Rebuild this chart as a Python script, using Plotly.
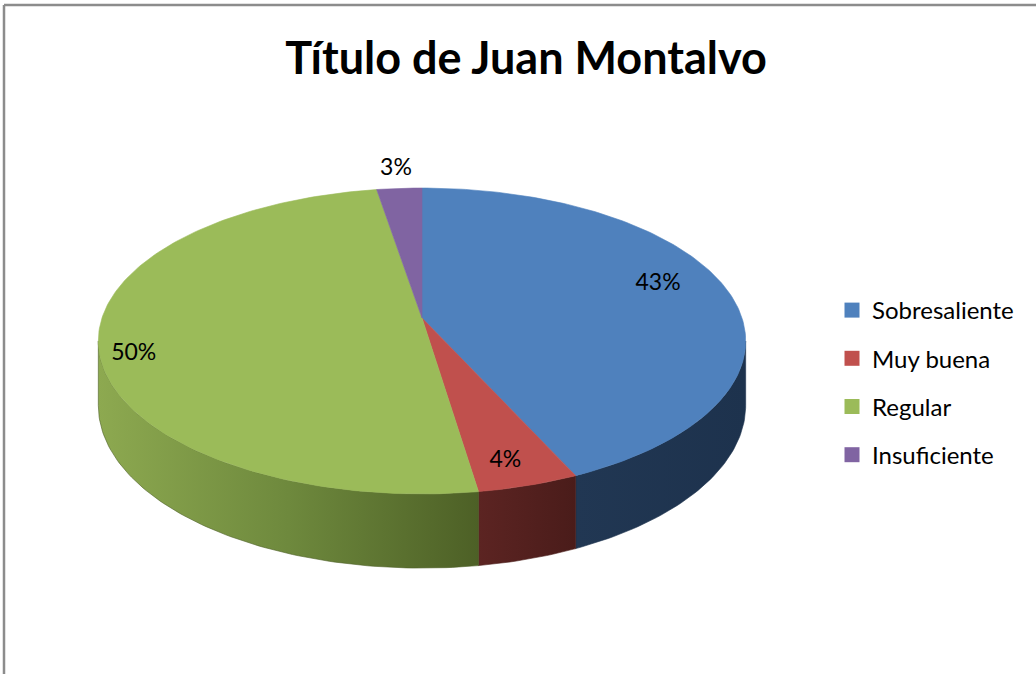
import numpy as np
import plotly.graph_objects as go

# ---- data (percent shares; labels round them) ----
categories = ["Sobresaliente", "Muy buena", "Regular", "Insuficiente"]
values = [43.2, 4.4, 49.8, 2.6]

# ---- style ----
top_colors = ["#4F81BD", "#C0504D", "#9BBB59", "#8064A2"]
side_scales = [
    [[0, "#213753"], [1, "#1D324D"]],
    [[0, "#5C2422"], [1, "#4A1C1A"]],
    [[0, "#8DA950"], [0.5, "#6E893D"], [1, "#4D6026"]],
    [[0, "#4B3B60"], [1, "#3F3150"]],
]
label_r = [0.80, 0.87, 0.90, 1.17]
label_dphi = [-5.0, 1.4, -6.0, 0.0]   # degrees
FONT = "Lato"

# geometry of the pseudo-3D pie (pixel-like plot coordinates)
CX, CY = 422.0, 318.0
RX, RY = 320.0, 149.5
D = 6.65      # perspective distance
H = 63.0      # thickness


def proj(u, v, z=0.0):
    s = D / (D - v)
    return CX + RX * u * s, CY + (RY * v + H * z) * s


def arc(a, b, z=0.0, n=None):
    if n is None:
        n = max(int(abs(b - a) / np.pi * 180) + 2, 3)
    t = np.linspace(a, b, n)
    return proj(np.sin(t), -np.cos(t), z)


total = float(sum(values))
fr = np.array(values) / total
edges = np.concatenate([[0.0], np.cumsum(fr)]) * 2 * np.pi

# visible side range (silhouette tangents)
tt = np.linspace(0, 2 * np.pi, 7201)
xx, _ = proj(np.sin(tt), -np.cos(tt))
phi_r = tt[np.argmax(xx)]
phi_l = tt[np.argmin(xx)]

fig = go.Figure()

# sides
for i in range(len(values)):
    a, b = max(edges[i], phi_r), min(edges[i + 1], phi_l)
    if b <= a:
        continue
    xt, yt = arc(a, b, 0)
    xb, yb = arc(a, b, 1)
    xs = np.concatenate([xt, xb[::-1], xt[:1]])
    ys = np.concatenate([yt, yb[::-1], yt[:1]])
    fig.add_trace(go.Scatter(
        x=xs, y=ys, mode="lines", fill="toself",
        line=dict(width=0.6, color=side_scales[i][-1][1]),
        fillgradient=dict(type="horizontal", colorscale=side_scales[i]),
        hoverinfo="skip", showlegend=False))

# top faces
for i in range(len(values)):
    xt, yt = arc(edges[i], edges[i + 1], 0)
    x0, y0 = proj(0.0, 0.0)
    xs = np.concatenate([[x0], xt, [x0]])
    ys = np.concatenate([[y0], yt, [y0]])
    fig.add_trace(go.Scatter(
        x=xs, y=ys, mode="lines", fill="toself",
        line=dict(width=0.6, color=top_colors[i]), fillcolor=top_colors[i],
        name=categories[i], hoverinfo="name", showlegend=False))

# data labels
lx, ly, lt = [], [], []
for i in range(len(values)):
    m = 0.5 * (edges[i] + edges[i + 1]) + np.radians(label_dphi[i])
    r = label_r[i]
    px, py = proj(r * np.sin(m), -r * np.cos(m))
    lx.append(px)
    ly.append(py)
    lt.append(f"{round(fr[i] * 100):.0f}%")
fig.add_trace(go.Scatter(
    x=lx, y=ly, mode="text", text=lt, textposition="middle center",
    textfont=dict(family=FONT, size=23, color="#000000"),
    hoverinfo="skip", showlegend=False))

# legend entries
for i, c in enumerate(categories):
    fig.add_trace(go.Scatter(
        x=[None], y=[None], mode="markers", name=c, legendgroup=c,
        marker=dict(symbol="square", size=15, color=top_colors[i])))

W, Hh = 1036, 674
fig.update_layout(
    width=W, height=Hh,
    margin=dict(l=0, r=0, t=0, b=0),
    paper_bgcolor="white", plot_bgcolor="white",
    xaxis=dict(range=[0, W], visible=False, fixedrange=True),
    yaxis=dict(range=[Hh, 0], visible=False, fixedrange=True),
    title=dict(text="<b>Título de Juan Montalvo</b>", x=526 / W, xanchor="center",
               y=1 - 58 / Hh, yanchor="middle",
               font=dict(family=FONT, size=45, color="#000000")),
    legend=dict(x=832 / W, xanchor="left", y=1 - 288 / Hh, yanchor="top",
                font=dict(family=FONT, size=24, color="#000000"),
                tracegroupgap=14, bgcolor="rgba(0,0,0,0)"),
    shapes=[
        dict(type="line", xref="paper", yref="paper", x0=4 / W, x1=1.0,
             y0=1 - 5 / Hh, y1=1 - 5 / Hh, line=dict(color="#8C8C8C", width=2.5)),
        dict(type="line", xref="paper", yref="paper", x0=4 / W, x1=4 / W,
             y0=0, y1=1 - 5 / Hh, line=dict(color="#8C8C8C", width=2.5)),
    ],
    showlegend=True,
)

fig.write_html("out.html", config={"displayModeBar": False},
               post_script="document.body.style.margin='0px';")
